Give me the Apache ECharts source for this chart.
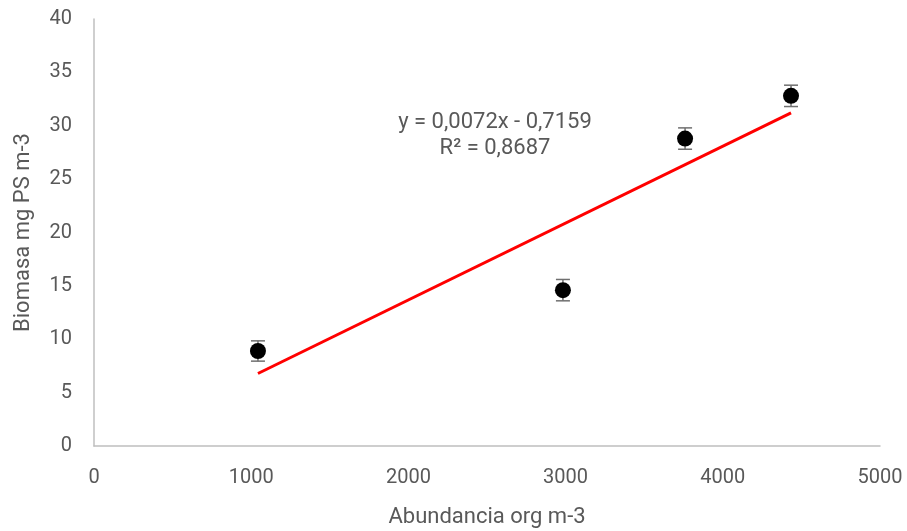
<!DOCTYPE html>
<html><head><meta charset="utf-8">
<script src="https://cdn.jsdelivr.net/npm/echarts@6/dist/echarts.min.js"></script>
<style>html,body{margin:0;padding:0;background:#fff}#c{width:907px;height:531px}</style>
</head><body><div id="c"></div>
<script>
const abundancia = [1043, 2983, 3760, 4434];
const biomasa = [8.9, 14.6, 28.8, 32.8];
const errores = [0.95, 1.0, 1.0, 1.0];
const tendenciaX = [1043, 4434];
const tendenciaY = [6.79, 31.21];
const xTicks = [0, 1000, 2000, 3000, 4000, 5000];
const yTicks = [0, 5, 10, 15, 20, 25, 30, 35, 40];
const ecuacion = ['y = 0,0072x - 0,7159', 'R² = 0,8687'];

const chart = echarts.init(document.getElementById('c'));
const font = 'Roboto';
const gray = '#595959';
chart.setOption({
  animation: false,
  grid: {left: 94, right: 27, top: 19, bottom: 85, outerBoundsMode: 'none', containLabel: false},
  xAxis: {
    type: 'value', min: xTicks[0], max: xTicks[xTicks.length-1], interval: 1000,
    name: 'Abundancia org m-3', nameLocation: 'middle', nameGap: 60,
    nameTextStyle: {fontFamily: font, fontSize: 22, color: gray},
    axisLine: {show: true, lineStyle: {color: '#bfbfbf', width: 1.5}},
    axisTick: {show: false}, splitLine: {show: false},
    axisLabel: {fontFamily: font, fontSize: 20, color: gray, margin: 22, formatter: v => String(v)}
  },
  yAxis: {
    type: 'value', min: yTicks[0], max: yTicks[yTicks.length-1], interval: 5,
    name: 'Biomasa mg PS m-3', nameLocation: 'middle', nameGap: 60,
    nameTextStyle: {fontFamily: font, fontSize: 22, color: gray},
    axisLine: {show: true, lineStyle: {color: '#bfbfbf', width: 1.5}},
    axisTick: {show: false}, splitLine: {show: false},
    axisLabel: {fontFamily: font, fontSize: 20, color: gray, margin: 22}
  },
  series: [
    {
      type: 'line', data: tendenciaX.map((x,i)=>[x, tendenciaY[i]]),
      symbol: 'none', lineStyle: {color: '#ff0000', width: 3}, z: 2
    },
    {
      type: 'custom', z: 3,
      data: abundancia.map((x,i)=>[x, biomasa[i]-errores[i], biomasa[i]+errores[i]]),
      renderItem: function(params, api){
        const lo = api.coord([api.value(0), api.value(1)]);
        const hi = api.coord([api.value(0), api.value(2)]);
        const hw = 7;
        const st = {stroke: '#6f6f6f', lineWidth: 1.5};
        return {type: 'group', children: [
          {type: 'line', shape: {x1: lo[0], y1: lo[1], x2: hi[0], y2: hi[1]}, style: st},
          {type: 'line', shape: {x1: lo[0]-hw, y1: lo[1], x2: lo[0]+hw, y2: lo[1]}, style: st},
          {type: 'line', shape: {x1: hi[0]-hw, y1: hi[1], x2: hi[0]+hw, y2: hi[1]}, style: st}
        ]};
      }
    },
    {
      type: 'scatter', z: 4, data: abundancia.map((x,i)=>[x, biomasa[i]]),
      symbol: 'circle', symbolSize: 16, itemStyle: {color: '#000', opacity: 1}
    }
  ],
  graphic: [
    {type: 'text', position: [495, 122], style: {text: ecuacion[0], fontFamily: font, fontSize: 22, fill: gray, align: 'center', verticalAlign: 'middle'}},
    {type: 'text', position: [495, 148], style: {text: ecuacion[1], fontFamily: font, fontSize: 22, fill: gray, align: 'center', verticalAlign: 'middle'}}
  ]
});
</script></body></html>
